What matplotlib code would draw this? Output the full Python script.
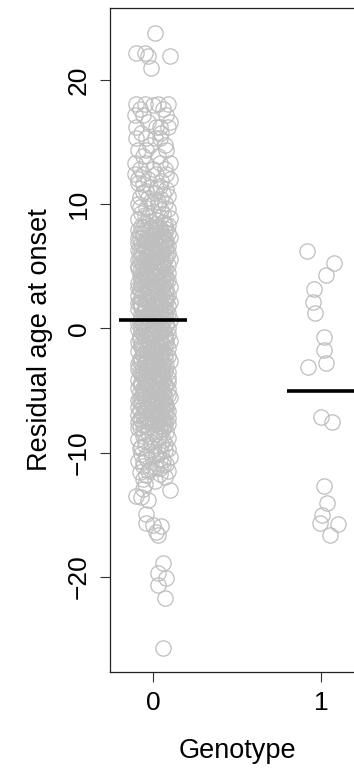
"""
Stripchart: residual age at onset by genotype, with group means
"""

import matplotlib.pyplot as plt
import numpy as np

plt.rcParams.update({
    'font.family': ['Liberation Sans', 'DejaVu Sans'],
    'font.size': 19,
})

genotypes = [0, 1]
genotype_labels = ['0', '1']

# group 0: residual age at onset, with the horizontal jitter offset of each point
resid_g0 = [
    23.8, 22.2, 22.2, 21.9, 21.9, 21.0,
    18.1, 18.1, 18.1, 18.1, 18.0, 17.7, 17.7, 17.2, 17.2, 17.2,
    16.6, 16.6, 16.2, 16.2, 16.2, 16.2, 15.7, 15.7, 15.3, 15.3,
    15.3, 15.3, 14.8, 14.8, 14.4, 14.4, 14.4, 13.9, 13.9, 13.3,
    13.3, 13.3, 13.3, 12.8, 12.8, 12.8, 12.4, 12.4, 12.4, 12.4,
    12.0, 12.0, 12.0,
    11.7, 11.5, 11.4, 11.2, 11.0, 10.9, 10.7, 10.6, 10.4, 10.3,
    10.1, 10.0, 9.9, 9.7, 9.6, 9.4, 9.3, 9.2, 9.0, 8.9,
    8.8, 8.7, 8.6, 8.5, 8.4, 8.3, 8.2, 8.1, 8.05, 8.0,
    7.93, 7.86, 7.8, 7.71, 7.66, 7.58, 7.5, 7.44, 7.37, 7.3, 7.22, 7.15, 7.08, 7.02,
    6.95, 6.88, 6.8, 6.74, 6.65, 6.6, 6.52, 6.45, 6.36, 6.3, 6.24, 6.16, 6.08, 6.01,
    5.96, 5.9, 5.81, 5.73, 5.68, 5.59, 5.52, 5.44, 5.38, 5.29, 5.22, 5.14, 5.07, 5.0,
    4.94, 4.87, 4.79, 4.72, 4.66, 4.57, 4.5, 4.43, 4.35, 4.28, 4.2, 4.13, 4.06, 4.0,
    3.95, 3.89, 3.8, 3.74, 3.67, 3.58, 3.51, 3.45, 3.37, 3.29, 3.23, 3.15, 3.09, 3.01,
    2.96, 2.88, 2.81, 2.73, 2.65, 2.59, 2.5, 2.44, 2.36, 2.3, 2.21, 2.14, 2.08, 2.0,
    1.94, 1.87, 1.79, 1.73, 1.64, 1.58, 1.52, 1.43, 1.36, 1.29, 1.21, 1.15, 1.06, 1.0,
    0.95, 0.87, 0.8, 0.72, 0.67, 0.58, 0.51, 0.44, 0.37, 0.28, 0.22, 0.15, 0.07, 0.01,
    -0.05, -0.12, -0.2, -0.27, -0.34, -0.42, -0.48, -0.56, -0.63, -0.7, -0.78, -0.85, -0.92, -0.99,
    -1.04, -1.13, -1.2, -1.26, -1.35, -1.41, -1.49, -1.57, -1.62, -1.71, -1.78, -1.84, -1.93, -1.99,
    -2.06, -2.11, -2.19, -2.28, -2.33, -2.42, -2.49, -2.55, -2.64, -2.7, -2.77, -2.86, -2.91, -2.98,
    -3.04, -3.12, -3.18, -3.27, -3.35, -3.4, -3.48, -3.56, -3.63, -3.69, -3.78, -3.84, -3.91, -3.99,
    -4.05, -4.1, -4.18, -4.26, -4.32, -4.41, -4.47, -4.55, -4.61, -4.7, -4.76, -4.85, -4.9, -4.98,
    -5.03, -5.12, -5.17, -5.26, -5.33, -5.39, -5.48, -5.54, -5.62, -5.68, -5.77, -5.83, -5.92, -5.97,
    -6.04, -6.11, -6.19, -6.25, -6.34, -6.4, -6.47, -6.56, -6.61, -6.69, -6.78, -6.83, -6.92, -6.98,
    -7.05, -7.1, -7.2, -7.26, -7.33, -7.41, -7.48, -7.53, -7.62, -7.69, -7.75, -7.84, -7.9, -7.97,
    -8.05, -8.17, -8.3, -8.41, -8.52, -8.66, -8.78, -8.9, -9.02, -9.13,
    -9.27, -9.38, -9.5, -9.63, -9.74, -9.86, -9.98, -10.1, -10.22, -10.35,
    -10.46, -10.58, -10.7, -10.83, -10.95, -11.07, -11.2, -11.32, -11.45, -11.58,
    -11.7, -11.83, -11.95, -12.1, -12.3, -12.5,
    -12.9, -13.0, -13.5, -13.6, -13.8, -14.9, -15.7, -15.8, -15.9, -16.4,
    -16.6, -18.9, -19.7, -20.1, -20.65, -21.7, -25.7,
    # second pass through the dense band
    11.9, 11.6, 11.3, 11.1, 10.8, 10.5, 10.2, 9.8, 9.5, 9.1, 8.95, 8.65, 8.45, 8.25, 8.15,
    7.97, 7.89, 7.77, 7.68, 7.55, 7.47, 7.4, 7.33, 7.25, 7.18, 7.11, 7.05,
    6.97, 6.9, 6.83, 6.71, 6.62, 6.55, 6.42, 6.33, 6.27, 6.19, 6.12, 6.04,
    5.93, 5.84, 5.76, 5.65, 5.56, 5.47, 5.4, 5.33, 5.26, 5.18, 5.1, 5.03,
    4.97, 4.9, 4.82, 4.7, 4.62, 4.54, 4.46, 4.39, 4.31, 4.24, 4.16, 4.09,
    3.98, 3.92, 3.84, 3.71, 3.63, 3.55, 3.48, 3.41, 3.33, 3.26, 3.19, 3.05,
    2.99, 2.92, 2.85, 2.77, 2.69, 2.56, 2.47, 2.4, 2.33, 2.25, 2.17, 2.04,
    1.97, 1.9, 1.83, 1.76, 1.68, 1.6, 1.47, 1.39, 1.32, 1.25, 1.18, 1.09,
    0.98, 0.91, 0.83, 0.76, 0.63, 0.55, 0.48, 0.4, 0.33, 0.25, 0.18, 0.1,
    -0.02, -0.09, -0.16, -0.24, -0.31, -0.38, -0.45, -0.52, -0.6, -0.74, -0.82, -0.95,
    -1.08, -1.16, -1.23, -1.31, -1.38, -1.45, -1.53, -1.6, -1.67, -1.75, -1.88, -1.96,
    -2.02, -2.15, -2.23, -2.3, -2.38, -2.45, -2.52, -2.6, -2.67, -2.74, -2.82, -2.95,
    -3.08, -3.15, -3.22, -3.3, -3.38, -3.44, -3.52, -3.59, -3.66, -3.74, -3.81, -3.95,
    -4.02, -4.14, -4.22, -4.29, -4.37, -4.44, -4.51, -4.58, -4.66, -4.73, -4.81, -4.94,
    -5.07, -5.15, -5.22, -5.3, -5.36, -5.44, -5.51, -5.58, -5.65, -5.73, -5.8, -5.88,
    -6.01, -6.08, -6.15, -6.22, -6.3, -6.37, -6.44, -6.52, -6.59, -6.65, -6.74, -6.88,
    -7.02, -7.14, -7.23, -7.3, -7.37, -7.45, -7.51, -7.58, -7.66, -7.72, -7.8, -7.93,
    -8.1, -8.35, -8.6, -8.85, -9.1, -9.33, -9.57, -9.8, -10.05, -10.3, -10.52, -10.77, -11.0, -11.25, -11.5,
]
jitter_g0 = [
    0.01, -0.10, -0.05, -0.03, 0.10, -0.01,
    -0.10, -0.05, 0.03, 0.09, 0.0, -0.08, 0.06, -0.11, -0.06, 0.08,
    -0.03, 0.10, -0.10, 0.02, 0.09, 0.04, -0.07, 0.05, -0.10, -0.04,
    0.04, 0.01, -0.02, 0.07, -0.04, 0.08, -0.09, 0.03, -0.06, -0.11,
    -0.04, 0.04, 0.10, 0.0, -0.08, 0.07, -0.11, -0.06, 0.02, 0.08,
    -0.03, 0.10, -0.09,
    -0.09, 0.04, -0.02, 0.08, -0.06, 0.01, 0.09, -0.08, 0.05, -0.01,
    0.07, -0.09, 0.03, -0.04, 0.09, 0.00, -0.07, 0.06, -0.03, 0.10,
    -0.09, 0.02, 0.06, -0.05, 0.01, 0.09, -0.06, 0.04, -0.01, 0.08,
    -0.09, 0.04, -0.03, 0.09, 0.01, -0.06, 0.06, -0.01, 0.10, -0.08, 0.03, -0.04, 0.08, -0.01,
    0.06, -0.09, 0.01, -0.04, 0.09, -0.06, 0.04, -0.01, 0.07, -0.09, 0.05, -0.02, 0.09, -0.06,
    -0.07, 0.02, 0.08, -0.04, 0.00, 0.10, -0.09, 0.04, -0.02, 0.06, -0.06, 0.01, 0.09, -0.04,
    0.03, -0.09, 0.07, -0.01, 0.05, -0.06, 0.09, -0.04, 0.01, -0.08, 0.06, 0.02, -0.05, 0.08,
    -0.03, 0.09, -0.07, 0.04, -0.09, 0.01, 0.06, -0.05, 0.10, -0.01, 0.04, -0.08, 0.02, 0.07,
    0.05, -0.06, 0.00, 0.09, -0.09, 0.03, -0.02, 0.08, -0.06, 0.06, -0.04, 0.10, -0.09, 0.01,
    -0.08, 0.04, 0.09, -0.04, 0.01, -0.09, 0.06, -0.01, 0.04, -0.06, 0.09, -0.03, 0.02, 0.07,
    0.01, -0.07, 0.06, -0.02, 0.10, -0.05, 0.03, -0.09, 0.08, 0.00, -0.06, 0.05, -0.04, 0.09,
    -0.09, 0.06, -0.01, 0.04, -0.06, 0.09, -0.03, 0.01, -0.08, 0.07, 0.04, -0.04, 0.01, 0.10,
    0.04, -0.09, 0.08, -0.01, 0.06, -0.06, 0.00, 0.09, -0.04, 0.03, -0.09, 0.06, -0.02, 0.05,
    -0.06, 0.02, 0.09, -0.04, 0.04, -0.08, 0.07, -0.01, 0.10, -0.05, 0.01, -0.09, 0.06, -0.03,
    0.08, -0.04, 0.01, -0.09, 0.05, -0.01, 0.09, -0.06, 0.03, -0.07, 0.06, 0.00, -0.05, 0.09,
    -0.04, 0.06, -0.09, 0.02, 0.09, -0.03, 0.04, -0.07, 0.07, -0.01, -0.09, 0.04, 0.09, -0.06,
    0.01, -0.08, 0.06, -0.02, 0.09, -0.06, 0.03, 0.10, -0.04, 0.05, -0.09, 0.01, -0.01, 0.07,
    -0.07, 0.04, -0.03, 0.08, -0.09, 0.02, 0.06, -0.05, 0.09, -0.01, 0.04, -0.06, 0.07, -0.09,
    0.05, -0.01, 0.09, -0.08, 0.01, -0.04, 0.07, -0.09, 0.03, 0.09, -0.06, 0.04, -0.03, 0.06,
    -0.09, 0.04, 0.08, -0.03, 0.01, -0.06, 0.09, -0.09, 0.06, -0.01,
    0.07, -0.05, 0.03, -0.08, 0.09, -0.01, 0.05, -0.07, 0.02, 0.10,
    -0.04, 0.06, -0.09, 0.01, 0.08, -0.06, 0.04, -0.02, 0.09, -0.08,
    0.04, -0.04, 0.07, -0.06, 0.01, -0.05,
    -0.06, 0.10, -0.10, -0.07, -0.03, -0.04, -0.04, 0.00, 0.05, 0.02,
    0.03, 0.06, 0.03, 0.08, 0.03, 0.07, 0.06,
    # second pass through the dense band
    0.05, -0.06, 0.02, -0.04, 0.06, -0.03, 0.03, -0.08, 0.05, -0.05, 0.04, -0.02, 0.07, -0.07, 0.02,
    0.02, -0.05, 0.07, -0.08, 0.00, 0.05, -0.06, 0.03, -0.09, 0.07, -0.03, 0.05,
    -0.04, 0.07, -0.07, 0.03, -0.02, 0.08, -0.05, 0.02, -0.08, 0.06, -0.01, 0.04,
    0.05, -0.03, 0.03, -0.08, 0.07, -0.05, 0.02, -0.07, 0.04, -0.02, 0.06, -0.09,
    -0.06, 0.06, -0.04, 0.04, -0.08, 0.02, -0.02, 0.07, -0.05, 0.03, -0.07, 0.05,
    0.06, -0.06, 0.03, -0.02, 0.07, -0.07, 0.02, -0.04, 0.05, -0.09, 0.08, -0.03,
    -0.07, 0.03, -0.04, 0.06, -0.01, 0.07, -0.07, 0.03, -0.03, 0.08, -0.08, 0.04,
    0.03, -0.05, 0.05, -0.07, 0.07, 0.02, -0.05, 0.08, -0.02, 0.05, -0.07, 0.00,
    -0.05, 0.04, -0.03, 0.07, -0.08, 0.02, -0.06, 0.05, -0.03, 0.08, 0.02, -0.07,
    0.06, -0.04, 0.03, -0.07, 0.05, -0.02, 0.07, -0.06, 0.04, -0.05, 0.08, -0.08,
    -0.03, 0.05, -0.07, 0.03, -0.03, 0.07, -0.07, 0.05, 0.02, -0.06, 0.04, -0.01,
    0.07, -0.06, 0.04, 0.00, -0.07, 0.05, -0.03, 0.02, -0.08, 0.06, -0.05, 0.03,
    -0.02, 0.06, -0.06, 0.03, -0.04, 0.07, -0.08, 0.05, -0.02, 0.04, -0.06, 0.03,
    0.04, -0.05, 0.06, -0.07, 0.01, 0.07, -0.05, 0.03, -0.03, 0.05, -0.06, 0.02,
    -0.05, 0.05, -0.06, 0.06, -0.02, 0.07, -0.07, 0.02, -0.08, 0.03, 0.06, -0.04,
    0.03, -0.03, 0.07, -0.06, 0.05, -0.04, 0.01, 0.08, -0.08, 0.04, -0.02, 0.02,
    -0.06, 0.03, -0.04, 0.06, -0.07, 0.03, -0.02, 0.06, -0.05, 0.01, 0.07, -0.08,
    0.06, -0.06, 0.04, 0.03, -0.05, 0.05, -0.07, 0.07, 0.03, -0.04, 0.04, -0.06, 0.06, 0.02, -0.03,
]

# group 1
resid_g1 = [6.26, 5.25, 4.31, 3.18, 2.16, 1.22, -0.66, -1.73, -2.75, -3.07,
            -7.1, -7.55, -12.68, -14.07, -15.02, -15.68, -15.77, -16.63]
jitter_g1 = [-0.085, 0.08, 0.03, -0.04, -0.05, -0.036, 0.018, 0.018, 0.03, -0.075,
             -0.002, 0.067, 0.018, 0.034, 0.008, -0.006, 0.103, 0.054]

group_means = [0.66, -5.06]

assert len(resid_g0) == len(jitter_g0), (len(resid_g0), len(jitter_g0))
assert len(resid_g1) == len(jitter_g1)

fig = plt.figure(figsize=(3.54, 7.71), dpi=100)
# right side of the box runs past the figure edge, as in the cropped original
ax = fig.add_axes([0.3107, 0.1284, 0.7175, 0.8612])

x0 = genotypes[0] + np.array(jitter_g0)
x1 = genotypes[1] + np.array(jitter_g1)
for xs, ys in [(x0, resid_g0), (x1, resid_g1)]:
    ax.plot(xs, ys, 'o', ms=11, mfc='none', mec='#bebebe', mew=0.9, clip_on=False)

for g, m in zip(genotypes, group_means):
    ax.plot([g - 0.2, g + 0.2], [m, m], color='black', lw=2.6, solid_capstyle='butt')

ax.set_xlim(-0.256, 1.256)
ax.set_ylim(-27.66, 25.8)
ax.set_xticks(genotypes)
ax.set_xticklabels(genotype_labels)
ax.set_yticks([-20, -10, 0, 10, 20])

ax.tick_params(axis='both', direction='out', length=7, width=0.8, colors='#333333',
               labelcolor='black', labelsize=19)
ax.tick_params(axis='x', pad=7)
ax.tick_params(axis='y', pad=7)
for lab in ax.get_yticklabels():
    lab.set_rotation(90)
    lab.set_va('center')

ax.set_xlabel('Genotype', fontsize=19.5, labelpad=16)
ax.set_ylabel('Residual age at onset', fontsize=19.5, labelpad=10)

for side in ['left', 'bottom', 'top']:
    ax.spines[side].set_linewidth(0.9)
    ax.spines[side].set_color('#222222')
ax.spines['right'].set_visible(False)

fig.savefig('out.png', dpi=100, facecolor='white')
print("Saved: out.png")
plt.close()
